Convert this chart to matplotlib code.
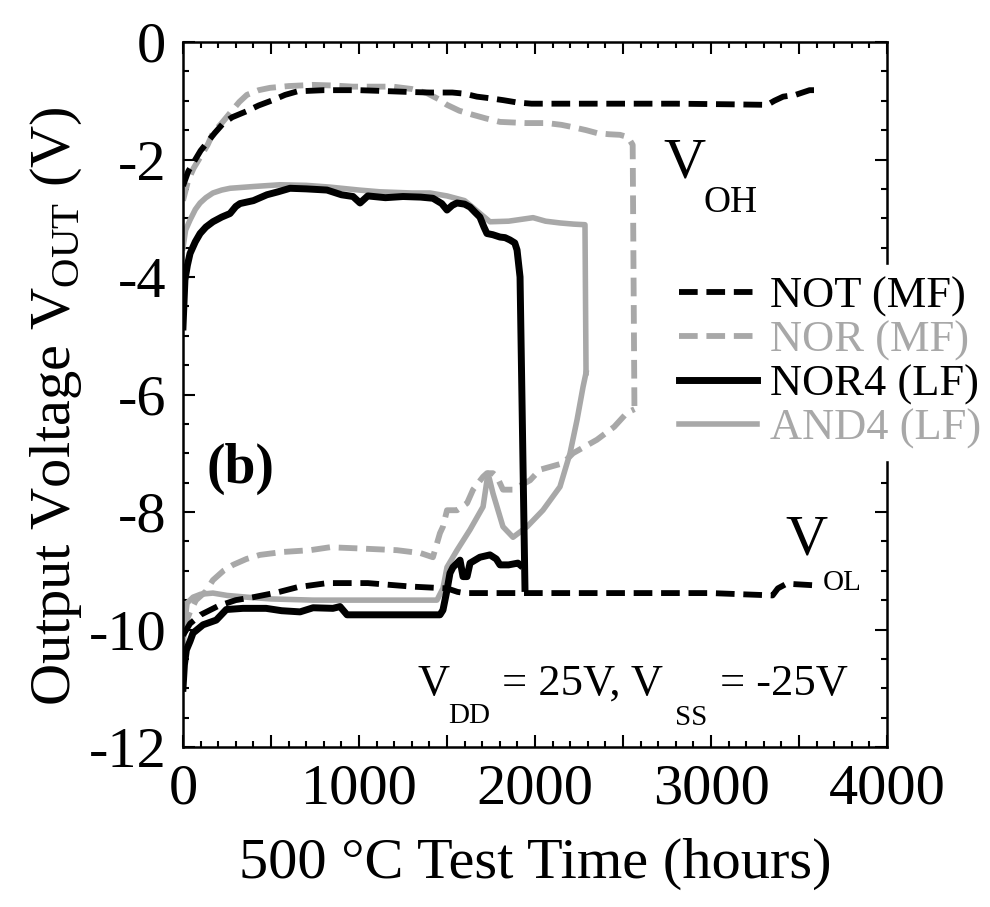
import numpy as np
import matplotlib
matplotlib.use("Agg")
import matplotlib.pyplot as plt
from matplotlib.ticker import MultipleLocator, FuncFormatter

plt.rcParams['font.family'] = ['Liberation Serif', 'DejaVu Serif']
plt.rcParams['mathtext.fontset'] = 'custom'
plt.rcParams['mathtext.rm'] = 'Liberation Serif'
plt.rcParams['axes.unicode_minus'] = False

BLACK = 'black'
GRAY = '#a8a8a8'

# NOT (MF) - V_OH and V_OL branches
not_hi_x = [0, 30, 60, 100, 140, 180, 230, 280, 360, 430, 510, 580, 650, 800, 1000, 1100, 1280, 1400,
            1530, 1600, 1670, 1750, 1820, 1900, 1980, 2400, 2800, 3100, 3320, 3360, 3410, 3480, 3560, 3600]
not_hi_y = [-2.45, -2.2, -2.05, -1.85, -1.7, -1.55, -1.38, -1.28, -1.18, -1.08, -0.99, -0.9, -0.84, -0.82,
            -0.82, -0.83, -0.85, -0.86, -0.86, -0.88, -0.93, -0.96, -0.99, -1.03, -1.05, -1.05, -1.05,
            -1.06, -1.07, -1.0, -0.93, -0.9, -0.82, -0.82]
not_lo_x = [0, 40, 100, 200, 300, 400, 534, 650, 820, 1050, 1300, 1500, 1560, 1600, 2000, 2500, 3000,
            3350, 3380, 3430, 3600]
not_lo_y = [-10.1, -9.9, -9.75, -9.6, -9.5, -9.45, -9.37, -9.28, -9.21, -9.21, -9.27, -9.3, -9.36, -9.38,
            -9.38, -9.38, -9.38, -9.42, -9.3, -9.22, -9.25]

# NOR (MF)
nor_hi_x = [0, 30, 60, 100, 140, 170, 220, 267, 320, 363, 430, 494, 600, 739, 850, 966, 1100, 1193, 1300,
            1386, 1450, 1500, 1570, 1648, 1720, 1801, 1950, 2068, 2150, 2216, 2290, 2352, 2420, 2483, 2528,
            2555, 2565]
nor_hi_y = [-2.7, -2.35, -2.15, -1.95, -1.75, -1.55, -1.38, -1.21, -1.02, -0.9, -0.82, -0.78, -0.75, -0.73,
            -0.74, -0.76, -0.76, -0.76, -0.8, -0.87, -0.97, -1.07, -1.17, -1.24, -1.3, -1.36, -1.38, -1.38,
            -1.41, -1.45, -1.5, -1.55, -1.57, -1.58, -1.62, -1.75, -6.25]
nor_lo_x = [0, 40, 74, 130, 170, 230, 284, 360, 437, 568, 722, 835, 1000, 1216, 1350, 1420, 1460, 1477,
            1500, 1557, 1614, 1648, 1705, 1727, 1761, 1784, 1818, 1875, 1972, 2028, 2159, 2216, 2352, 2450,
            2523, 2565]
nor_lo_y = [-10.0, -9.7, -9.5, -9.35, -9.16, -9.0, -8.9, -8.8, -8.73, -8.68, -8.65, -8.6, -8.62, -8.65,
            -8.7, -8.77, -8.36, -8.25, -7.97, -7.97, -7.85, -7.62, -7.4, -7.34, -7.34, -7.4, -7.62, -7.62,
            -7.46, -7.28, -7.17, -7.0, -6.77, -6.55, -6.31, -6.25]

# NOR4 (LF)
nor4_hi_x = [0, 11, 25, 40, 70, 97, 130, 170, 220, 267, 300, 324, 400, 477, 540, 608, 700, 818, 900, 966,
             1006, 1050, 1150, 1250, 1350, 1420, 1470, 1500, 1530, 1557, 1600, 1631, 1660, 1687, 1710, 1727,
             1760, 1801, 1830, 1858, 1885, 1898, 1915, 1943]
nor4_hi_y = [-4.85, -4.05, -3.8, -3.6, -3.4, -3.26, -3.15, -3.06, -2.98, -2.92, -2.8, -2.75, -2.7, -2.6,
             -2.55, -2.49, -2.5, -2.52, -2.6, -2.63, -2.74, -2.62, -2.65, -2.63, -2.64, -2.66, -2.75, -2.86,
             -2.78, -2.74, -2.76, -2.81, -2.9, -2.98, -3.15, -3.26, -3.28, -3.32, -3.33, -3.37, -3.42, -3.54,
             -4.0, -9.3]
nor4_lo_x = [0, 8, 19, 40, 57, 114, 189, 246, 341, 472, 560, 665, 739, 852, 892, 932, 1100, 1300, 1460,
             1477, 1500, 1517, 1534, 1557, 1574, 1591, 1614, 1631, 1687, 1744, 1780, 1801, 1850, 1903, 1915]
nor4_lo_y = [-11.0, -10.6, -10.35, -10.2, -10.06, -9.92, -9.84, -9.66, -9.64, -9.64, -9.68, -9.7, -9.63,
             -9.64, -9.61, -9.75, -9.75, -9.75, -9.75, -9.67, -9.33, -9.04, -8.94, -8.87, -8.82, -9.1, -9.1,
             -8.87, -8.77, -8.73, -8.8, -8.9, -8.9, -8.87, -8.9]

# AND4 (LF)
and4_hi_x = [0, 15, 40, 70, 97, 130, 170, 220, 267, 400, 551, 700, 835, 1000, 1119, 1300, 1403, 1500,
             1600, 1680, 1744, 1850, 1989, 2060, 2142, 2220, 2284, 2290]
and4_hi_y = [-3.5, -3.2, -3.03, -2.85, -2.74, -2.65, -2.57, -2.52, -2.49, -2.46, -2.43, -2.44, -2.47,
             -2.52, -2.55, -2.57, -2.57, -2.62, -2.7, -2.9, -3.06, -3.05, -2.99, -3.05, -3.08, -3.1, -3.11,
             -5.63]
and4_lo_x = [0, 10, 23, 57, 100, 170, 250, 363, 500, 739, 900, 1200, 1443, 1477, 1500, 1557, 1631, 1705,
             1733, 1761, 1818, 1875, 1955, 2045, 2142, 2199, 2239, 2273, 2290]
and4_lo_y = [-10.3, -9.9, -9.55, -9.45, -9.4, -9.38, -9.42, -9.45, -9.48, -9.5, -9.5, -9.5, -9.5, -9.3,
             -8.94, -8.65, -8.3, -7.91, -7.34, -7.68, -8.25, -8.43, -8.25, -7.97, -7.57, -7.0, -6.43,
             -5.87, -5.63]

fig = plt.figure(figsize=(9.9, 9.07), dpi=100)
ax = fig.add_axes([183/990, 1 - 747/907, 704/990, 705/907])

dash = (3.2, 1.5)
ax.plot(nor_hi_x, nor_hi_y, color=GRAY, lw=4.2, dashes=dash, label='NOR (MF)')
ax.plot(nor_lo_x, nor_lo_y, color=GRAY, lw=4.2, dashes=dash)
ax.plot(and4_hi_x, and4_hi_y, color=GRAY, lw=4.0, label='AND4 (LF)')
ax.plot(and4_lo_x, and4_lo_y, color=GRAY, lw=4.0)
ax.plot(not_hi_x, not_hi_y, color=BLACK, lw=4.2, dashes=dash, label='NOT (MF)')
ax.plot(not_lo_x, not_lo_y, color=BLACK, lw=4.2, dashes=dash)
ax.plot(nor4_hi_x, nor4_hi_y, color=BLACK, lw=5.0, label='NOR4 (LF)')
ax.plot(nor4_lo_x, nor4_lo_y, color=BLACK, lw=5.0)

ax.set_xlim(0, 4000)
ax.set_ylim(-12, 0)
ax.xaxis.set_major_locator(MultipleLocator(500))
ax.xaxis.set_minor_locator(MultipleLocator(100))
ax.xaxis.set_major_formatter(FuncFormatter(lambda v, p: '%d' % v if v % 1000 == 0 else ''))
ax.yaxis.set_major_locator(MultipleLocator(2))
ax.yaxis.set_minor_locator(MultipleLocator(0.5))
ax.tick_params(which='both', direction='in', top=True, right=True, width=1.5, labelsize=42, pad=12)
ax.tick_params(which='major', length=8.5)
ax.tick_params(which='minor', length=4.3)
for s in ax.spines.values():
    s.set_linewidth(1.8)

ax.set_xlabel('500 °C Test Time (hours)', fontsize=42, labelpad=16)
ax.set_ylabel(r'Output Voltage V$_{\rm OUT}$ (V)', fontsize=42)
ax.yaxis.set_label_coords(-0.14, 0.484)

# annotations
ax.text(2727, -2.30, 'V', fontsize=42)
ax.text(2955, -2.89, 'OH', fontsize=27)
ax.text(3420, -8.73, 'V', fontsize=42)
ax.text(3636, -9.33, 'OL', fontsize=21)
ax.text(1335, -11.11, 'V', fontsize=32)
ax.text(1506, -11.59, 'DD', fontsize=21)
ax.text(1813, -11.11, '= 25V, V', fontsize=32)
ax.text(2795, -11.62, 'SS', fontsize=21)
ax.text(3051, -11.11, '= -25V', fontsize=32)
ax.text(135, -7.5, '(b)', fontsize=40, fontweight='bold')

handles, labels = ax.get_legend_handles_labels()
order = [2, 0, 3, 1]
leg = ax.legend([handles[i] for i in order], [labels[i] for i in order],
                loc='upper left', bbox_to_anchor=(668/990, 1 - 265/907), bbox_transform=fig.transFigure,
                fontsize=32, frameon=True, fancybox=False, facecolor='white', edgecolor='white',
                framealpha=1, borderpad=0.25, borderaxespad=0, handlelength=1.75, handletextpad=0.3,
                labelspacing=0.08, labelcolor='linecolor')
leg.set_zorder(10)

fig.savefig('out.png', dpi=100)
